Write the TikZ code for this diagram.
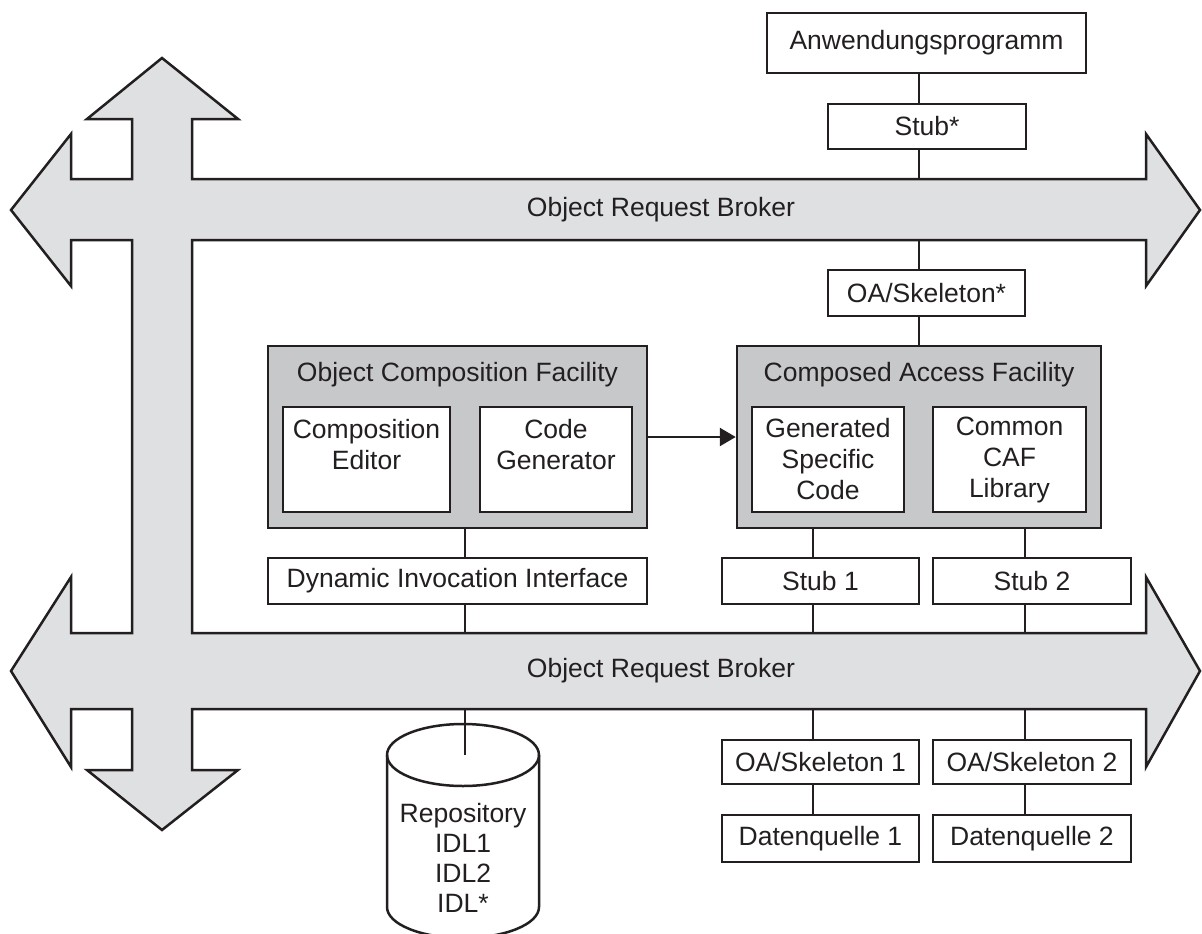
\documentclass[tikz,border=0pt]{standalone}
\usepackage{fontspec}
\setmainfont{Liberation Sans}
\usetikzlibrary{arrows.meta}
\definecolor{orbgray}{RGB}{223,224,226}
\definecolor{facgray}{RGB}{199,200,202}
\definecolor{ink}{RGB}{35,31,32}
\newcommand\diafont{\fontsize{26.5}{31}\selectfont}
\begin{document}
\begin{tikzpicture}[x=1pt,y=-1pt,line width=2.5pt,color=ink,
  box/.style={draw,fill=white,rectangle,inner sep=0pt,align=center,font=\diafont},
  facility/.style={draw,fill=facgray,rectangle,inner sep=0pt},
  lbl/.style={inner sep=0pt,align=center,font=\diafont},
  conn/.style={line width=2.5pt}]
\useasboundingbox (0,0) rectangle (1202,934);

% ORB cross
\draw[fill=orbgray,line join=miter]
  (162,58) -- (238,119) -- (192,119) -- (192,179) -- (1146,179) -- (1146,134)
  -- (1200,210) -- (1146,286) -- (1146,240) -- (192,240) -- (192,633)
  -- (1146,633) -- (1146,577) -- (1200,671) -- (1146,767) -- (1146,709)
  -- (192,709) -- (192,770) -- (238,770) -- (162,830) -- (87,770) -- (132,770)
  -- (132,709) -- (71,709) -- (71,767) -- (11,671) -- (71,577) -- (71,633)
  -- (132,633) -- (132,240) -- (71,240) -- (71,286) -- (11,210) -- (71,134)
  -- (71,179) -- (132,179) -- (132,119) -- (87,119) -- cycle;
\coordinate (orbAtop) at (0,179);
\coordinate (orbAbot) at (0,240);
\coordinate (orbBtop) at (0,633);
\coordinate (orbBbot) at (0,709);
\node[lbl] (orbA) at (661,210) {Object Request Broker};
\node[lbl] (orbB) at (661,671) {Object Request Broker};

% x positions of connectors
\coordinate (xa) at (919,0);
\coordinate (xb) at (465,0);
\coordinate (xc) at (813,0);
\coordinate (xd) at (1025,0);

% top right
\node[box,minimum width=319,minimum height=60] (app) at (926.5,43) {Anwendungsprogramm};
\node[box,minimum width=198,minimum height=45] (stubstar) at (927,126.5) {Stub*};
\node[box,minimum width=197,minimum height=46] (oastar) at (926.5,293) {OA/Skeleton*};

% facilities
\node[facility,minimum width=379,minimum height=182] (ocf) at (457.5,437) {};
\node[lbl] (ocftitle) at (457.5,375) {Object Composition Facility};
\node[box,minimum width=167,minimum height=105] (editor) at (366.5,459.5) {Composition\\Editor\\\mbox{}};
\node[box,minimum width=152,minimum height=105] (codegen) at (556,459.5) {Code\\Generator\\\mbox{}};

\node[facility,minimum width=364,minimum height=182] (caf) at (919,437) {};
\node[lbl] (caftitle) at (919,375) {Composed Access Facility};
\node[box,minimum width=152,minimum height=105] (gen) at (828,459.5) {Generated\\Specific\\Code};
\node[box,minimum width=153,minimum height=105] (caflib) at (1009.5,459.5) {Common\\CAF\\Library};

\draw[-{Triangle[length=16pt,width=18pt]}] (ocf.east) -- (caf.west);

% stubs
\node[box,minimum width=379,minimum height=46] (dii) at (457.5,581) {Dynamic Invocation Interface};
\node[box,minimum width=197,minimum height=46] (stub1) at (820.5,581) {Stub 1};
\node[box,minimum width=198,minimum height=46] (stub2) at (1032,581) {Stub 2};

% bottom right
\node[box,minimum width=197,minimum height=44] (oa1) at (820.5,762) {OA/Skeleton 1};
\node[box,minimum width=198,minimum height=44] (oa2) at (1032,762) {OA/Skeleton 2};
\node[box,minimum width=197,minimum height=47] (dq1) at (820.5,838.5) {Datenquelle 1};
\node[box,minimum width=198,minimum height=47] (dq2) at (1032,838.5) {Datenquelle 2};

% repository cylinder
\draw[fill=white] (387,755) -- (387,907) arc[start angle=180,end angle=0,x radius=76,y radius=31]
  -- (539,755) arc[start angle=0,end angle=-180,x radius=76,y radius=31] -- cycle;
\draw (387,755) arc[start angle=180,end angle=0,x radius=76,y radius=31];
\coordinate (cyltop) at (463,755);
\node[lbl,font=\fontsize{26.5}{30}\selectfont] (repo) at (463,858) {Repository\\IDL1\\IDL2\\IDL*};

% connectors
\draw[conn] (app.south -| xa) -- (stubstar.north -| xa);
\draw[conn] (stubstar.south -| xa) -- (orbAtop -| xa);
\draw[conn] (orbAbot -| xa) -- (oastar.north -| xa);
\draw[conn] (oastar.south -| xa) -- (caf.north -| xa);

\draw[conn] (ocf.south -| xb) -- (dii.north -| xb);
\draw[conn] (dii.south -| xb) -- (orbBtop -| xb);
\draw[conn] (orbBbot -| xb) -- (cyltop -| xb);

\draw[conn] (caf.south -| xc) -- (stub1.north -| xc);
\draw[conn] (stub1.south -| xc) -- (orbBtop -| xc);
\draw[conn] (orbBbot -| xc) -- (oa1.north -| xc);
\draw[conn] (oa1.south -| xc) -- (dq1.north -| xc);

\draw[conn] (caf.south -| xd) -- (stub2.north -| xd);
\draw[conn] (stub2.south -| xd) -- (orbBtop -| xd);
\draw[conn] (orbBbot -| xd) -- (oa2.north -| xd);
\draw[conn] (oa2.south -| xd) -- (dq2.north -| xd);
\end{tikzpicture}
\end{document}
